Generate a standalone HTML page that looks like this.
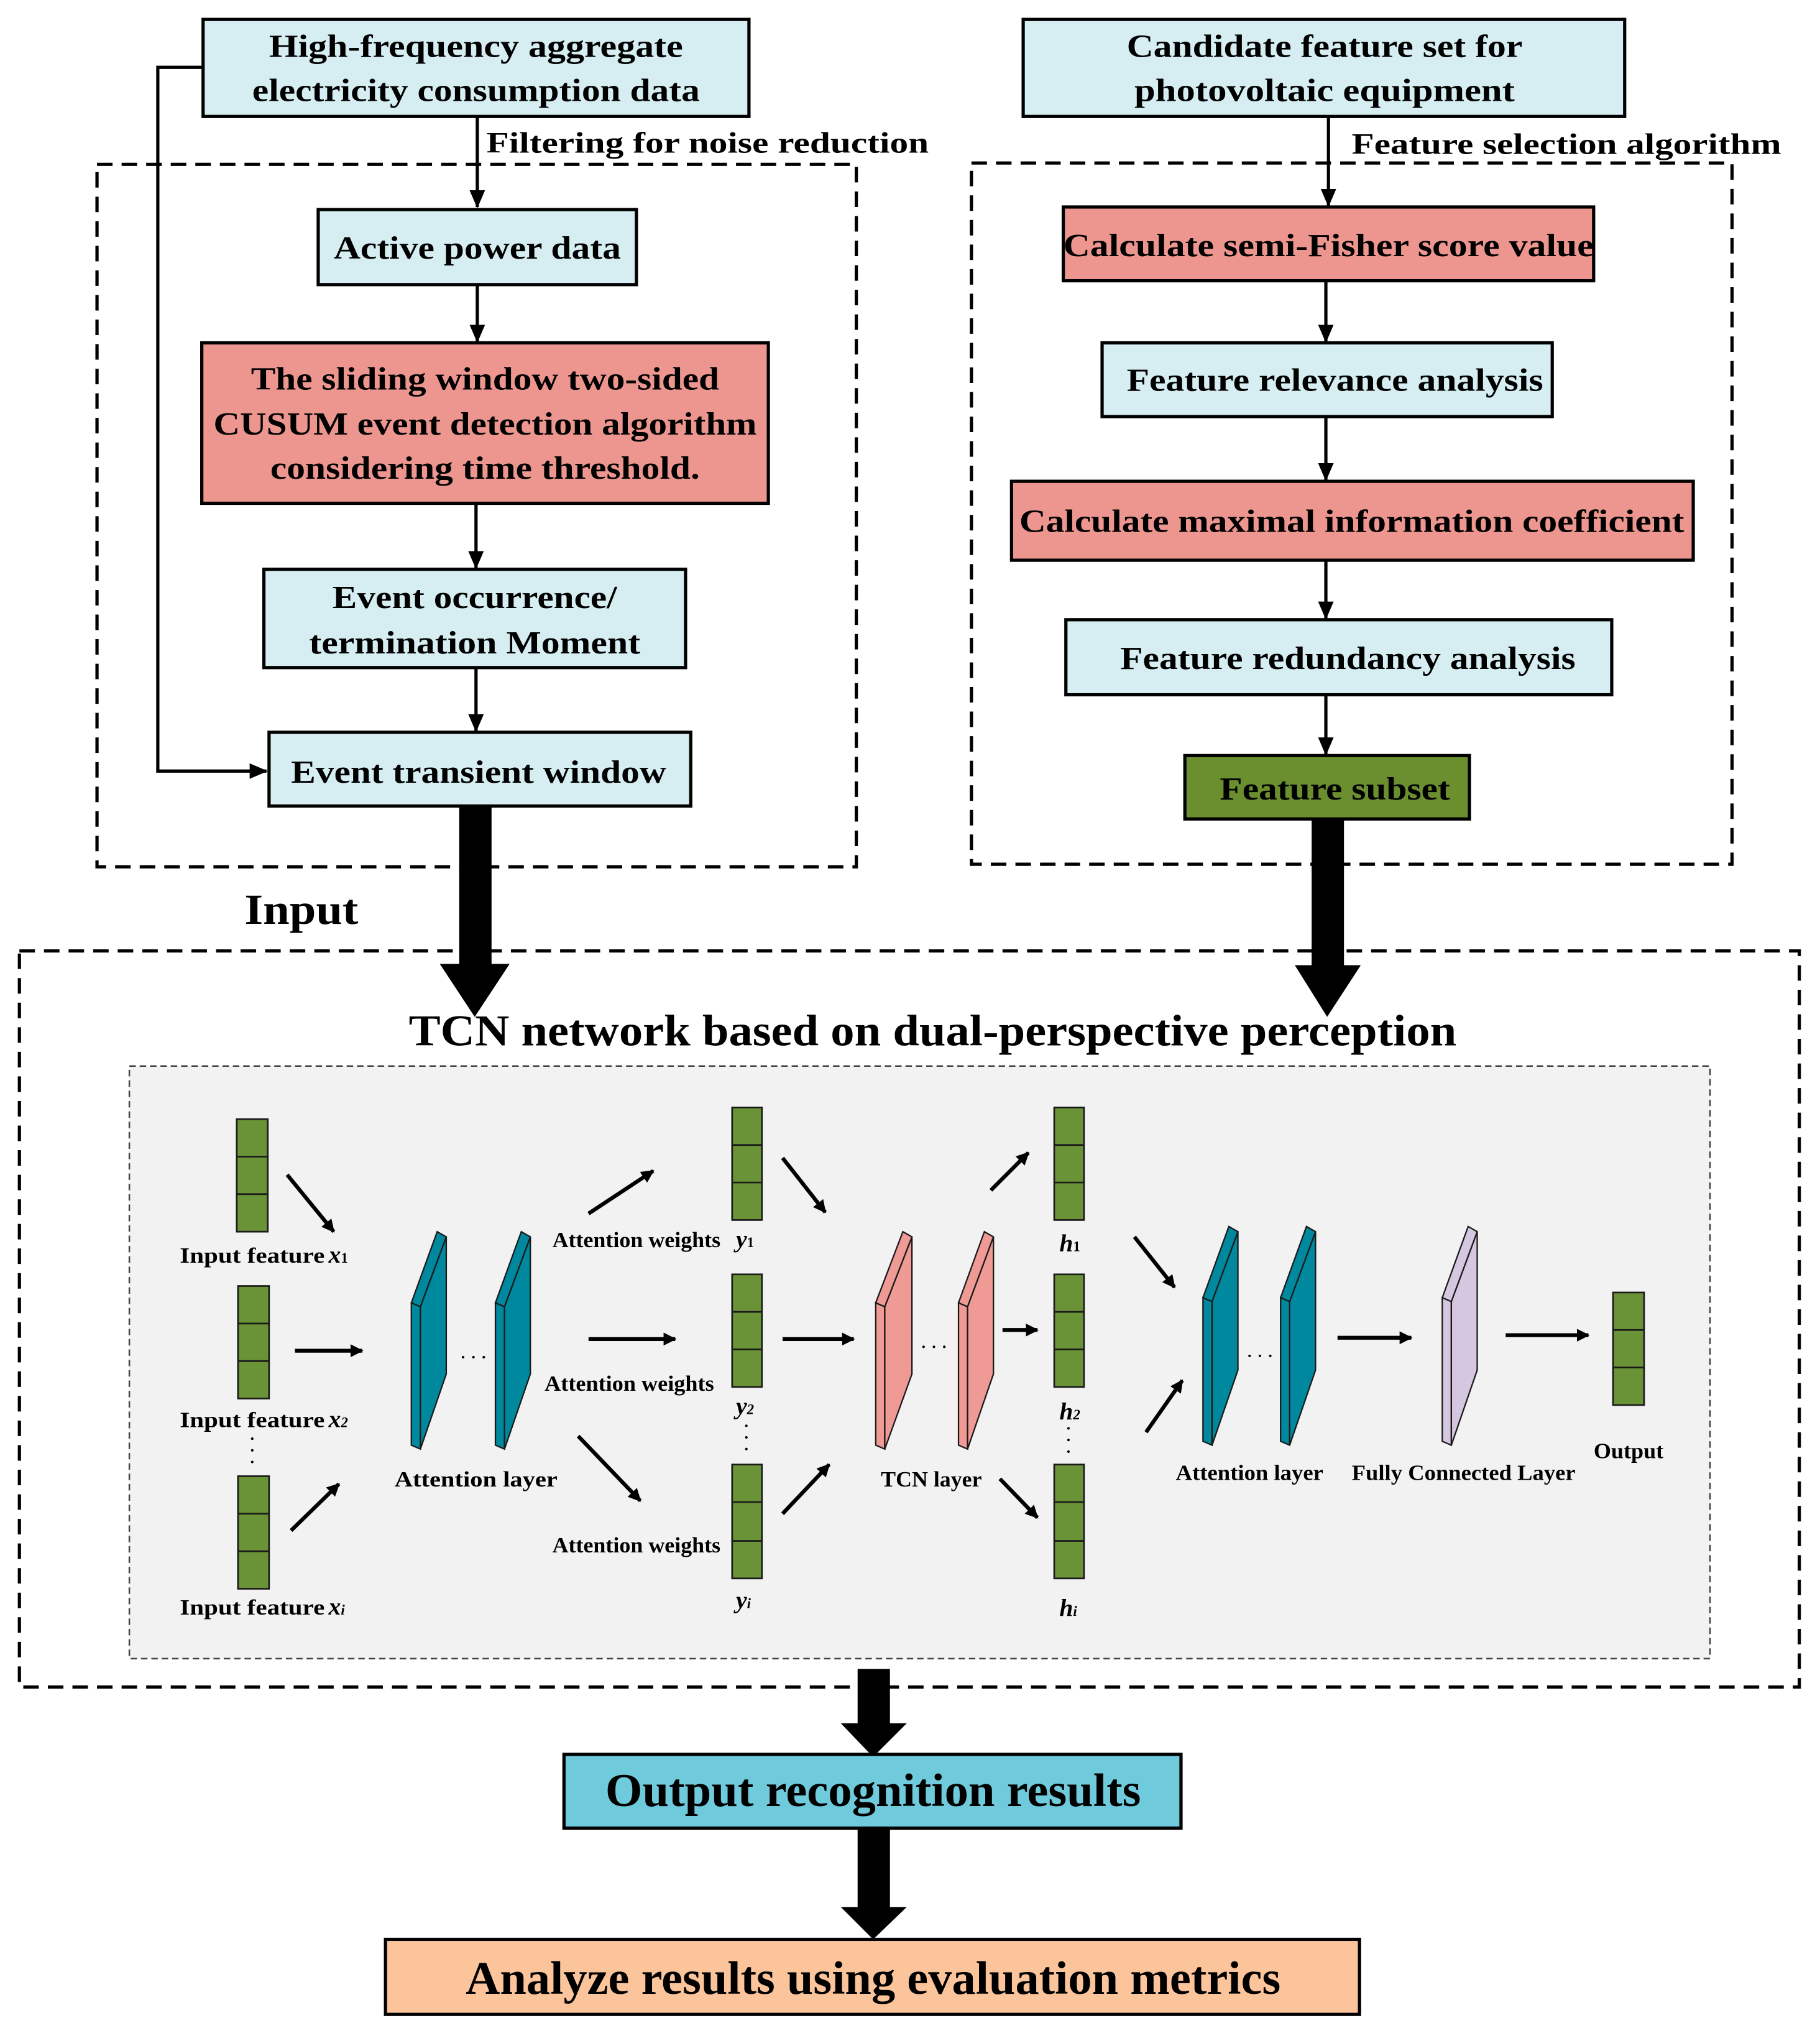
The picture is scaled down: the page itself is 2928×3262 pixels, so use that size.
<!DOCTYPE html>
<html><head><meta charset="utf-8"><style>
html,body{margin:0;padding:0;background:#fff;}
svg{display:block;}
text{font-family:"Liberation Serif",serif;font-weight:bold;fill:#000;}
</style></head><body>
<svg width="2928" height="3262" viewBox="0 0 1407 1567.5" preserveAspectRatio="none" xmlns="http://www.w3.org/2000/svg">
<defs>
<marker id="ah" markerWidth="10" markerHeight="10" refX="9" refY="5" orient="auto" markerUnits="userSpaceOnUse"><path d="M0,0 L10,5 L0,10 z" fill="#000"/></marker>
<marker id="as" markerWidth="14" markerHeight="12" refX="13" refY="6" orient="auto" markerUnits="userSpaceOnUse"><path d="M0,0 L14,6 L0,12 z" fill="#000"/></marker>
</defs>
<g stroke="#000" stroke-width="2.5">
<!-- top boxes -->
<rect x="157" y="15" width="422" height="75" fill="#d6eef2"/>
<rect x="791" y="15" width="465" height="75" fill="#d6eef2"/>
</g>
<text x="368" y="44" font-size="25" text-anchor="middle" textLength="320" lengthAdjust="spacingAndGlyphs">High-frequency aggregate</text>
<text x="368" y="78" font-size="25" text-anchor="middle" textLength="346" lengthAdjust="spacingAndGlyphs">electricity consumption data</text>
<text x="1024" y="44" font-size="25" text-anchor="middle" textLength="306" lengthAdjust="spacingAndGlyphs">Candidate feature set for</text>
<text x="1024" y="78" font-size="25" text-anchor="middle" textLength="294" lengthAdjust="spacingAndGlyphs">photovoltaic  equipment</text>

<!-- dashed boxes -->
<g fill="none" stroke="#000" stroke-width="2.5" stroke-dasharray="12,7">
<rect x="75" y="127" width="587" height="543"/>
<rect x="751" y="126" width="588" height="542"/>
<rect x="15" y="735" width="1376" height="569"/>
</g>
<text x="376" y="118" font-size="23" textLength="342" lengthAdjust="spacingAndGlyphs">Filtering for noise reduction</text>
<text x="1045" y="119" font-size="23" textLength="332" lengthAdjust="spacingAndGlyphs">Feature selection algorithm</text>

<!-- left column -->
<g stroke="#000" stroke-width="2.5">
<line x1="369" y1="90" x2="369" y2="160" marker-end="url(#as)"/>
<rect x="246" y="162" width="246" height="58" fill="#d6eef2"/>
<line x1="369" y1="220" x2="369" y2="264" marker-end="url(#as)"/>
<rect x="156" y="265" width="438" height="124" fill="#ed9690"/>
<line x1="368" y1="389" x2="368" y2="439" marker-end="url(#as)"/>
<rect x="204" y="440" width="326" height="76" fill="#d6eef2"/>
<line x1="368" y1="516" x2="368" y2="565" marker-end="url(#as)"/>
<rect x="208" y="566" width="326" height="57" fill="#d6eef2"/>
<polyline points="157,52 122,52 122,596 206,596" fill="none" marker-end="url(#as)"/>
</g>
<text x="369" y="200" font-size="25" text-anchor="middle" textLength="222" lengthAdjust="spacingAndGlyphs">Active power data</text>
<text x="375" y="301" font-size="25" text-anchor="middle" textLength="362" lengthAdjust="spacingAndGlyphs">The sliding window two-sided</text>
<text x="375" y="336" font-size="25" text-anchor="middle" textLength="420" lengthAdjust="spacingAndGlyphs">CUSUM event detection algorithm</text>
<text x="375" y="370" font-size="25" text-anchor="middle" textLength="332" lengthAdjust="spacingAndGlyphs">considering time threshold.</text>
<text x="367" y="470" font-size="25" text-anchor="middle" textLength="220" lengthAdjust="spacingAndGlyphs">Event occurrence/</text>
<text x="367" y="505" font-size="25" text-anchor="middle" textLength="256" lengthAdjust="spacingAndGlyphs">termination Moment</text>
<text x="370" y="605" font-size="25" text-anchor="middle" textLength="290" lengthAdjust="spacingAndGlyphs">Event transient window</text>

<!-- right column -->
<g stroke="#000" stroke-width="2.5">
<line x1="1027" y1="90" x2="1027" y2="159" marker-end="url(#as)"/>
<rect x="822" y="160" width="410" height="57" fill="#ed9690"/>
<line x1="1025" y1="217" x2="1025" y2="264" marker-end="url(#as)"/>
<rect x="852" y="265" width="348" height="57" fill="#d6eef2"/>
<line x1="1025" y1="322" x2="1025" y2="371" marker-end="url(#as)"/>
<rect x="782" y="372" width="527" height="61" fill="#ed9690"/>
<line x1="1025" y1="433" x2="1025" y2="478" marker-end="url(#as)"/>
<rect x="824" y="479" width="422" height="58" fill="#d6eef2"/>
<line x1="1025" y1="537" x2="1025" y2="583" marker-end="url(#as)"/>
<rect x="916" y="584" width="220" height="49" fill="#6b8f2f"/>
</g>
<text x="1027" y="198" font-size="25" text-anchor="middle" textLength="410" lengthAdjust="spacingAndGlyphs">Calculate semi-Fisher score value</text>
<text x="1032" y="302" font-size="25" text-anchor="middle" textLength="322" lengthAdjust="spacingAndGlyphs">Feature relevance analysis</text>
<text x="1045" y="411" font-size="25" text-anchor="middle" textLength="514" lengthAdjust="spacingAndGlyphs">Calculate maximal information coefficient</text>
<text x="1042" y="517" font-size="25" text-anchor="middle" textLength="352" lengthAdjust="spacingAndGlyphs">Feature redundancy analysis</text>
<text x="1032" y="618" font-size="25" text-anchor="middle" textLength="178" lengthAdjust="spacingAndGlyphs">Feature subset</text>

<!-- thick arrows -->
<g fill="#000">
<rect x="355" y="622" width="25" height="125"/><polygon points="340,745 394,745 367,786"/>
<rect x="1014" y="633" width="25" height="115"/><polygon points="1001,746 1052,746 1026,786"/>
<rect x="663" y="1290" width="25" height="45"/><polygon points="650,1332 701,1332 675,1358"/>
<rect x="663" y="1414" width="25" height="62"/><polygon points="650,1474 701,1474 675,1499"/>
</g>
<text x="189" y="714" font-size="33" textLength="88" lengthAdjust="spacingAndGlyphs">Input</text>
<text x="721" y="808" font-size="34" text-anchor="middle" textLength="810" lengthAdjust="spacingAndGlyphs">TCN network based on dual-perspective perception</text>

<!-- inner gray box -->
<rect x="100" y="824" width="1222" height="458" fill="#f2f2f2" stroke="#444" stroke-width="1.2" stroke-dasharray="5,3"/>

<!-- green columns -->
<g fill="#6a9236" stroke="#1a1a1a" stroke-width="1.3">
<rect x="183" y="865" width="24" height="87"/><line x1="183" y1="894" x2="207" y2="894"/><line x1="183" y1="923" x2="207" y2="923"/>
<rect x="184" y="994" width="24" height="87"/><line x1="184" y1="1023" x2="208" y2="1023"/><line x1="184" y1="1052" x2="208" y2="1052"/>
<rect x="184" y="1141" width="24" height="87"/><line x1="184" y1="1170" x2="208" y2="1170"/><line x1="184" y1="1199" x2="208" y2="1199"/>
<rect x="566" y="856" width="23" height="87"/><line x1="566" y1="885" x2="589" y2="885"/><line x1="566" y1="914" x2="589" y2="914"/>
<rect x="566" y="985" width="23" height="87"/><line x1="566" y1="1014" x2="589" y2="1014"/><line x1="566" y1="1043" x2="589" y2="1043"/>
<rect x="566" y="1132" width="23" height="88"/><line x1="566" y1="1161" x2="589" y2="1161"/><line x1="566" y1="1191" x2="589" y2="1191"/>
<rect x="815" y="856" width="23" height="87"/><line x1="815" y1="885" x2="838" y2="885"/><line x1="815" y1="914" x2="838" y2="914"/>
<rect x="815" y="985" width="23" height="87"/><line x1="815" y1="1014" x2="838" y2="1014"/><line x1="815" y1="1043" x2="838" y2="1043"/>
<rect x="815" y="1132" width="23" height="88"/><line x1="815" y1="1161" x2="838" y2="1161"/><line x1="815" y1="1191" x2="838" y2="1191"/>
<rect x="1247" y="999" width="24" height="87"/><line x1="1247" y1="1028" x2="1271" y2="1028"/><line x1="1247" y1="1057" x2="1271" y2="1057"/>
</g>

<!-- slabs -->
<g stroke="#1a1a1a" stroke-width="1.1">
<g fill="#00889e">
<polygon points="318,1007 325,1010 325,1120 318,1117"/><polygon points="325,1010 345,956 345,1062 325,1120"/><polygon points="318,1007 338,952 345,956 325,1010"/>
<polygon points="383,1007 390,1010 390,1120 383,1117"/><polygon points="390,1010 410,956 410,1062 390,1120"/><polygon points="383,1007 403,952 410,956 390,1010"/>
<polygon points="930,1003 937,1006 937,1117 930,1114"/><polygon points="937,1006 957,952 957,1059 937,1117"/><polygon points="930,1003 950,948 957,952 937,1006"/>
<polygon points="990,1003 997,1006 997,1117 990,1114"/><polygon points="997,1006 1017,952 1017,1059 997,1117"/><polygon points="990,1003 1010,948 1017,952 997,1006"/>
</g>
<g fill="#f09a96">
<polygon points="677,1007 684,1010 684,1120 677,1117"/><polygon points="684,1010 705,956 705,1062 684,1120"/><polygon points="677,1007 698,952 705,956 684,1010"/>
<polygon points="741,1007 748,1010 748,1120 741,1117"/><polygon points="748,1010 768,956 768,1062 748,1120"/><polygon points="741,1007 761,952 768,956 748,1010"/>
</g>
<g fill="#d6c7e1">
<polygon points="1115,1003 1122,1006 1122,1117 1115,1114"/><polygon points="1122,1006 1142,952 1142,1059 1122,1117"/><polygon points="1115,1003 1135,948 1142,952 1122,1006"/>
</g>
</g>

<!-- small arrows -->
<g stroke="#000" stroke-width="3" fill="none">
<line x1="222" y1="908" x2="258" y2="952" marker-end="url(#ah)"/>
<line x1="228" y1="1044" x2="280" y2="1044" marker-end="url(#ah)"/>
<line x1="225" y1="1183" x2="262" y2="1147" marker-end="url(#ah)"/>
<line x1="455" y1="938" x2="505" y2="905" marker-end="url(#ah)"/>
<line x1="455" y1="1035" x2="522" y2="1035" marker-end="url(#ah)"/>
<line x1="447" y1="1110" x2="495" y2="1160" marker-end="url(#ah)"/>
<line x1="605" y1="895" x2="638" y2="937" marker-end="url(#ah)"/>
<line x1="605" y1="1035" x2="660" y2="1035" marker-end="url(#ah)"/>
<line x1="605" y1="1170" x2="641" y2="1132" marker-end="url(#ah)"/>
<line x1="766" y1="920" x2="795" y2="891" marker-end="url(#ah)"/>
<line x1="775" y1="1028" x2="802" y2="1028" marker-end="url(#ah)"/>
<line x1="773" y1="1143" x2="802" y2="1173" marker-end="url(#ah)"/>
<line x1="877" y1="956" x2="908" y2="995" marker-end="url(#ah)"/>
<line x1="886" y1="1107" x2="914" y2="1067" marker-end="url(#ah)"/>
<line x1="1034" y1="1034" x2="1091" y2="1034" marker-end="url(#ah)"/>
<line x1="1164" y1="1032" x2="1228" y2="1032" marker-end="url(#ah)"/>
</g>
<!-- dots -->
<g fill="#000">
<circle cx="195" cy="1112" r="1"/><circle cx="195" cy="1121" r="1"/><circle cx="195" cy="1130" r="1"/>
<circle cx="577" cy="1102" r="1"/><circle cx="577" cy="1111" r="1"/><circle cx="577" cy="1120" r="1"/>
<circle cx="826" cy="1104" r="1"/><circle cx="826" cy="1113" r="1"/><circle cx="826" cy="1122" r="1"/>
<circle cx="358" cy="1049" r="1"/><circle cx="366" cy="1049" r="1"/><circle cx="374" cy="1049" r="1"/>
<circle cx="714" cy="1041" r="1"/><circle cx="722" cy="1041" r="1"/><circle cx="730" cy="1041" r="1"/>
<circle cx="966" cy="1048" r="1"/><circle cx="974" cy="1048" r="1"/><circle cx="982" cy="1048" r="1"/>
</g>

<!-- inner labels -->
<g font-size="17">
<text x="139" y="976" textLength="112" lengthAdjust="spacingAndGlyphs">Input feature</text><text x="254" y="976" font-style="italic" font-size="19">x<tspan font-size="11" font-style="normal">1</tspan></text>
<text x="139" y="1103" textLength="112" lengthAdjust="spacingAndGlyphs">Input feature</text><text x="254" y="1103" font-style="italic" font-size="19">x<tspan font-size="11">2</tspan></text>
<text x="139" y="1248" textLength="112" lengthAdjust="spacingAndGlyphs">Input feature</text><text x="254" y="1248" font-style="italic" font-size="19">x<tspan font-size="11">i</tspan></text>
<text x="305" y="1149" textLength="126" lengthAdjust="spacingAndGlyphs">Attention layer</text>
<text x="427" y="964" textLength="130" lengthAdjust="spacingAndGlyphs">Attention weights</text>
<text x="421" y="1075" textLength="131" lengthAdjust="spacingAndGlyphs">Attention weights</text>
<text x="427" y="1200" textLength="130" lengthAdjust="spacingAndGlyphs">Attention weights</text>
<text x="569" y="964" font-style="italic" font-size="19">y<tspan font-size="11" font-style="normal">1</tspan></text>
<text x="569" y="1093" font-style="italic" font-size="19">y<tspan font-size="11">2</tspan></text>
<text x="569" y="1243" font-style="italic" font-size="19">y<tspan font-size="11">i</tspan></text>
<text x="681" y="1149" textLength="78" lengthAdjust="spacingAndGlyphs">TCN layer</text>
<text x="819" y="967" font-style="italic" font-size="19">h<tspan font-size="11" font-style="normal">1</tspan></text>
<text x="819" y="1097" font-style="italic" font-size="19">h<tspan font-size="11">2</tspan></text>
<text x="819" y="1249" font-style="italic" font-size="19">h<tspan font-size="11">i</tspan></text>
<text x="909" y="1144" textLength="114" lengthAdjust="spacingAndGlyphs">Attention layer</text>
<text x="1045" y="1144" textLength="173" lengthAdjust="spacingAndGlyphs">Fully Connected Layer</text>
<text x="1232" y="1127" textLength="54" lengthAdjust="spacingAndGlyphs">Output</text>
</g>

<!-- bottom boxes -->
<g stroke="#000" stroke-width="2.5">
<rect x="436" y="1356" width="477" height="57" fill="#6fcadb"/>
<rect x="298" y="1499" width="753" height="58" fill="#fbc49b"/>
</g>
<text x="675" y="1396" font-size="36" text-anchor="middle" textLength="414" lengthAdjust="spacingAndGlyphs">Output recognition results</text>
<text x="675" y="1541" font-size="36" text-anchor="middle" textLength="630" lengthAdjust="spacingAndGlyphs">Analyze results using evaluation metrics</text>
</svg>
</body></html>
